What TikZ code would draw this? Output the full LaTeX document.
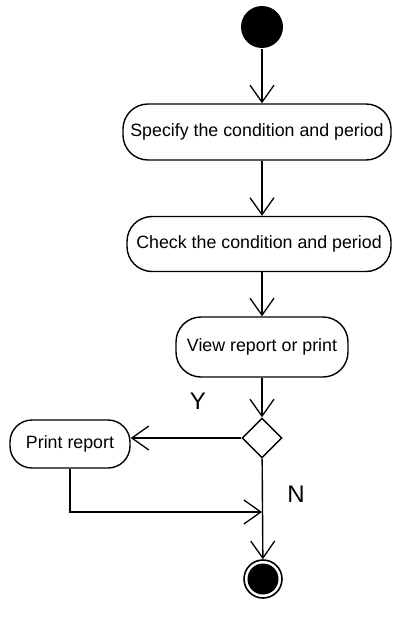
\documentclass[tikz,border=0pt]{standalone}
\usepackage{fontspec}
\setmainfont{Liberation Sans}
\usetikzlibrary{arrows.meta,shapes.geometric}
\begin{document}
\begin{tikzpicture}[x=1pt,y=-1pt,
  line width=1.4pt,
  act/.style={draw,rounded corners=25pt,align=center,inner sep=0pt,font=\fontsize{17.8}{20}\selectfont},
  arr/.style={-{Straight Barb[length=17pt,width=24pt,line width=1.3pt]}},
  lbl/.style={font=\fontsize{24}{26}\selectfont}]
\useasboundingbox (0,0) rectangle (393,618);
% start / end states
\node[circle,fill=black,minimum size=42pt,inner sep=0pt] (start) at (262,27) {};
\node[circle,draw,line width=1.6pt,minimum size=38pt,inner sep=0pt] (stop) at (263,579) {};
\node[circle,fill=black,minimum size=31pt,inner sep=0pt] at (stop) {};
% activities
\node[act,minimum width=268pt,minimum height=56pt] (a1) at (257,132) {Specify the condition and period};
\node[act,minimum width=264pt,minimum height=55pt] (a2) at (259,244) {Check the condition and period};
\node[act,minimum width=172pt,minimum height=60pt] (a3) at (262,347) {View report or print};
\node[diamond,draw,inner sep=0pt,minimum width=40pt,minimum height=40pt] (dec) at (262,438) {};
\node[act,rounded corners=22pt,minimum width=120pt,minimum height=48pt] (pr) at (70,444) {Print report};
\coordinate (join) at (262,512);
% flow
\draw[arr] (start) -- (start |- a1.north);
\draw[arr] (a1.south -| start) -- (a2.north -| start);
\draw[arr] (a2.south -| start) -- (a3.north -| start);
\draw[arr] (a3) -- (dec);
\draw[arr] (dec.west) -- (dec.west -| pr.east);
\draw[arr] (dec) -- (stop);
\draw[arr] (pr.south) |- (join);
% guards
\node[lbl] (y) at (198,401) {Y};
\node[lbl] (n) at (296,494) {N};
\end{tikzpicture}
\end{document}
